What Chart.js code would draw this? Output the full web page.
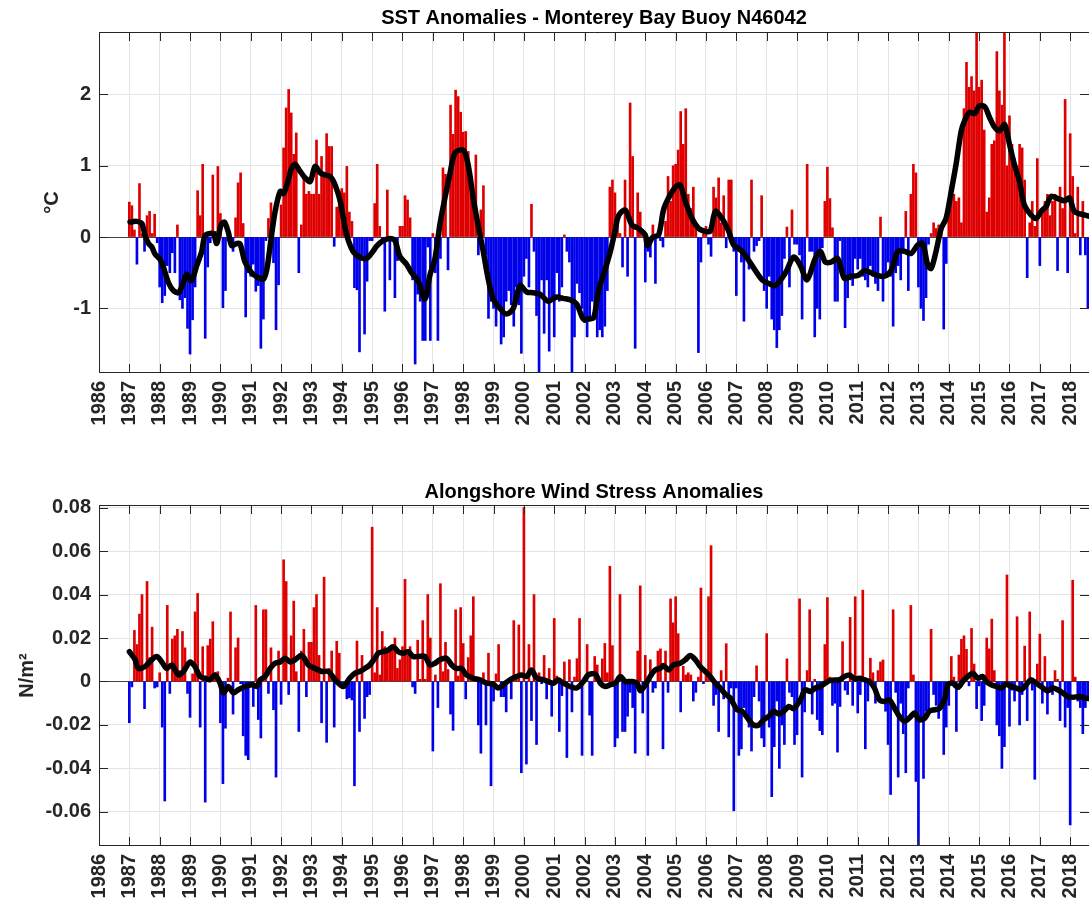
<!DOCTYPE html>
<html>
<head>
<meta charset="utf-8">
<script src="https://cdn.jsdelivr.net/npm/chart.js@4.4.0/dist/chart.umd.min.js"></script>
<style>
  body { margin: 0; background: #fff; width: 1089px; height: 899px; overflow: hidden; position: relative; }
  canvas { position: absolute; left: 0; }
  #sst { top: 0; }
  #wind { top: 470px; }
</style>
</head>
<body>
<canvas id="sst" width="1089" height="440"></canvas>
<canvas id="wind" width="1089" height="429"></canvas>
<script>
// monthly anomalies, one row per year, Jan 1987 .. Aug 2018
const startYear = 1987;

const sstAnom = [
  0.49, 0.44, 0.1, -0.38, 0.75, 0.05, -0.2, 0.3, 0.36, 0.05, 0.32, -0.08,
  -0.7, -0.92, -0.82, -0.4, -0.5, -0.22, -0.5, 0.17, -0.88, -1.0, -0.85, -1.28,
  -1.64, -1.16, -0.7, 0.65, 0.3, 1.02, -1.42, -0.42, -0.08, 0.87, 0.08, 0.99,
  0.33, -0.99, -0.75, -0.05, -0.05, -0.2, 0.27, 0.76, 0.9, 0.19, -1.12, -0.5,
  -0.55, -0.38, -0.76, -0.68, -1.56, -1.15, -0.05, 0.26, 0.48, -0.36, -1.3, -0.67,
  0.45, 1.25, 1.81, 2.07, 1.74, 1.16, 1.46, -0.5, 0.17, 0.83, 0.6, 0.64,
  0.6, 0.6, 1.36, 0.6, 1.13, 0.85, 1.45, 1.27, 1.27, -0.13, 0.42, 0.64,
  0.68, 0.62, 0.99, 0.35, 0.22, -0.71, -0.74, -1.61, -0.25, -1.36, -0.62, -0.05,
  -0.05, 0.47, 1.02, 0.15, -0.05, -1.04, 0.66, -0.6, -0.05, -0.85, -0.33, 0.15,
  0.15, 0.58, 0.52, 0.27, -0.6, -1.78, -0.8, -0.9, -1.45, -1.45, -0.14, -1.45,
  0.05, -0.5, -1.45, -0.3, 0.97, 0.88, -0.46, 1.85, 1.44, 2.06, 1.97, 1.75,
  1.47, 1.48, 1.2, 0.62, 0.62, 1.15, -0.25, 0.38, 0.72, -0.25, -1.14, -0.9,
  -1.0, -1.25, -1.0, -1.5, -1.4, -0.9, -0.75, -0.95, -1.25, -0.7, -0.95, -1.63,
  -0.55, -0.3, -0.7, 0.46, -0.2, -1.1, -1.91, -0.6, -1.35, -0.6, -1.6, -0.9,
  -1.4, -0.5, -0.9, -0.7, 0.03, -0.2, -0.35, -1.91, -1.4, -0.65, -0.78, -1.0,
  -1.2, -1.4, -1.15, -0.9, -1.1, -1.4, -1.3, -1.4, -1.25, -0.75, 0.7, 0.8,
  0.62, 0.3, 0.05, -0.42, 0.8, -0.55, 1.88, 1.13, -1.56, 0.62, 0.35, 0.1,
  -0.63, -0.2, -0.28, 0.17, -0.65, 0.05, -0.05, -0.14, 0.22, 0.85, 0.5, 1.0,
  1.02, 1.22, 1.76, 1.3, 1.8, 0.6, 0.4, 0.7, 0.2, -1.62, -0.35, 0.05,
  0.15, -0.1, -0.27, 0.7, 0.55, 0.83, 0.2, 0.58, -0.15, 0.8, 0.8, -0.2,
  -0.82, -0.16, -0.35, -1.18, -0.3, -0.45, 0.8, -0.2, -0.12, -0.05, 0.58, -0.75,
  -1.0, -0.55, -1.15, -1.3, -1.55, -1.3, -1.1, -0.3, 0.14, -0.7, 0.38, -0.1,
  -0.1, -0.25, -1.15, -0.5, 1.02, -0.2, -0.2, -1.4, -1.0, -1.15, -0.15, 0.5,
  0.98, 0.54, 0.13, -0.9, -0.9, -0.05, -0.5, -1.27, -0.85, -0.6, -0.68, -0.3,
  -0.45, -0.3, -0.55, -0.6, -0.7, -0.4, -0.55, -0.65, -0.75, 0.28, -0.9, -0.55,
  -0.35, -0.55, -1.25, -0.5, -0.4, -0.6, -0.2, 0.36, -0.75, 0.6, 1.02, 0.9,
  -0.7, -1.0, -1.17, -0.85, -0.1, 0.05, 0.2, 0.12, 0.17, 0.12, -1.29, -0.37,
  0.45, 0.6, 0.6, 0.5, 0.55, 0.2, 1.8, 2.45, 2.1, 2.25, 2.05, 2.87,
  2.1, 2.2, 1.5, 0.35, 0.55, 1.3, 1.35, 2.6, 2.05, 1.85, 2.87, 1.0,
  1.7, 1.3, 1.1, 1.0, 1.3, 1.25, 0.8, -0.57, 0.2, 0.5, 0.15, 1.1,
  -0.4, 0.35, 0.5, 0.6, 0.3, 0.5, 0.6, -0.47, 0.7, 0.4, 1.93, -0.5,
  1.45, 0.85, 0.05, 0.7, -0.25, 0.5, -0.25, -1.0
];

const windAnom = [
  -0.019, -0.0025, 0.0235, 0.017, 0.031, 0.04, -0.0125, 0.046, 0.011, 0.025, -0.003, -0.0025,
  0.004, -0.021, -0.055, 0.035, -0.0055, 0.0195, 0.021, 0.024, 0.005, 0.023, 0.0155, -0.0055,
  -0.0165, 0.0035, 0.032, 0.0405, -0.021, 0.016, -0.0555, 0.0165, 0.0195, 0.0275, 0.004, 0.0045,
  -0.019, -0.047, -0.0215, 0.0015, 0.032, -0.015, 0.0155, 0.02, -0.001, -0.025, -0.034, -0.036,
  -0.001, -0.0115, 0.035, -0.0175, -0.026, 0.033, 0.033, -0.0055, 0.0155, -0.013, -0.044, 0.014,
  -0.0105, 0.056, 0.046, -0.006, 0.021, 0.037, 0.0045, -0.023, 0.014, 0.024, -0.007, 0.018,
  0.018, 0.034, 0.04, 0.012, -0.019, 0.048, -0.028, 0.006, 0.014, -0.021, 0.0185, 0.013,
  -0.002, -0.003, -0.008, -0.0075, -0.0085, -0.048, 0.0186, -0.023, 0.012, -0.017, -0.007, -0.006,
  0.071, 0.004, 0.034, 0.003, 0.023, 0.016, 0.014, 0.015, 0.016, 0.02, 0.006, 0.01,
  0.016, 0.047, 0.012, 0.016, -0.0025, -0.0055, 0.019, 0.001, 0.028, 0.001, 0.04, 0.02,
  -0.032, 0.003, -0.012, 0.045, 0.0045, 0.018, 0.0055, -0.015, -0.0225, 0.033, 0.0025, 0.034,
  0.0175, -0.008, 0.011, 0.021, 0.039, 0.0015, -0.02, -0.033, 0.004, -0.02, 0.013, -0.048,
  -0.009, 0.0035, 0.017, -0.007, -0.007, -0.014, 0.001, -0.008, 0.028, 0.001, 0.026, -0.042,
  0.08, -0.038, 0.017, -0.018, 0.04, -0.029, 0.004, -0.001, 0.012, -0.008, 0.006, -0.016,
  0.029, 0.0025, -0.023, -0.0065, 0.009, -0.035, 0.01, -0.014, 0.002, 0.0105, 0.029, -0.034,
  0.001, 0.017, -0.0155, -0.034, 0.0115, 0.0076, 0.001, 0.0104, 0.0175, 0.004, 0.053, 0.0165,
  -0.03, -0.026, 0.04, -0.023, -0.023, -0.016, -0.005, -0.012, -0.033, 0.014, 0.044, -0.0145,
  0.012, -0.034, 0.01, -0.005, -0.003, 0.014, 0.015, -0.031, 0.014, -0.005, 0.038, 0.027,
  0.039, 0.022, -0.014, 0.007, 0.003, 0.004, 0.003, -0.009, -0.005, 0.002, 0.043, -0.001,
  0.005, 0.039, 0.0625, -0.011, -0.006, -0.023, 0.005, -0.008, 0.0174, -0.0255, -0.003, -0.0595,
  -0.003, -0.034, -0.031, -0.012, -0.017, -0.021, -0.032, -0.007, 0.0072, -0.009, -0.026, -0.03,
  0.022, -0.021, -0.053, -0.03, -0.009, -0.04, -0.02, -0.029, 0.0104, -0.005, -0.007, -0.029,
  -0.0245, 0.038, -0.044, -0.014, 0.005, 0.033, -0.015, 0.001, -0.0175, -0.0226, -0.0245, 0.017,
  0.0386, 0.002, -0.011, -0.01, -0.0325, -0.0115, 0.0183, -0.004, -0.006, 0.0295, -0.011, 0.039,
  -0.0145, -0.006, 0.042, -0.031, -0.009, 0.0107, 0.004, -0.01, 0.005, 0.009, 0.0099, -0.0137,
  -0.029, -0.052, 0.033, -0.005, -0.044, -0.01, -0.024, -0.042, -0.003, 0.035, 0.003, -0.046,
  -0.0757, -0.0176, -0.0446, -0.0137, -0.013, 0.024, -0.006, -0.011, -0.017, -0.012, -0.0336, -0.021,
  -0.011, 0.0115, 0.002, -0.023, 0.0122, 0.0194, 0.021, 0.0148, -0.002, 0.0244, 0.008, -0.0125,
  -0.002, -0.018, -0.011, 0.02, 0.015, 0.0287, 0.005, -0.02, -0.025, -0.04, -0.03, 0.049,
  -0.0206, -0.004, -0.009, 0.0298, -0.02, -0.006, 0.0163, -0.018, 0.032, -0.004, -0.045, 0.008,
  0.0218, -0.01, 0.0115, -0.015, -0.004, -0.006, 0.005, 0.001, -0.018, 0.028, -0.021, -0.012,
  -0.066, 0.0466, 0.002, -0.009, -0.012, -0.024, -0.012, -0.008
];

// smoothed curves, [decimal year, value]
const sstSmooth = [
  [1987.02, 0.21], [1987.24, 0.22], [1987.41, 0.19], [1987.52, 0.02], [1987.63, -0.09], [1987.74, -0.14],
  [1987.85, -0.24], [1988.01, -0.31], [1988.12, -0.42], [1988.29, -0.64], [1988.45, -0.75], [1988.62, -0.78],
  [1988.78, -0.64], [1988.89, -0.52], [1989.05, -0.61], [1989.22, -0.4], [1989.38, -0.21], [1989.49, 0.02],
  [1989.66, 0.05], [1989.77, 0.05], [1989.88, -0.09], [1990.02, 0.17], [1990.13, 0.21], [1990.26, 0.07],
  [1990.37, -0.12], [1990.54, -0.09], [1990.65, -0.1], [1990.81, -0.35], [1991.03, -0.5], [1991.25, -0.57],
  [1991.42, -0.59], [1991.53, -0.45], [1991.64, -0.12], [1991.8, 0.35], [1991.97, 0.64], [1992.08, 0.61],
  [1992.19, 0.73], [1992.35, 0.97], [1992.46, 1.02], [1992.63, 0.92], [1992.79, 0.83], [1992.96, 0.78],
  [1993.12, 0.99], [1993.29, 0.9], [1993.45, 0.87], [1993.62, 0.85], [1993.78, 0.73], [1993.95, 0.5],
  [1994.15, 0.05], [1994.37, -0.2], [1994.59, -0.28], [1994.81, -0.3], [1995.03, -0.2], [1995.14, -0.13],
  [1995.36, -0.05], [1995.58, -0.02], [1995.75, -0.05], [1995.91, -0.27], [1996.13, -0.38], [1996.3, -0.5],
  [1996.52, -0.62], [1996.74, -0.87], [1996.9, -0.54], [1997.07, -0.3], [1997.23, 0.17], [1997.4, 0.55],
  [1997.56, 0.88], [1997.73, 1.18], [1998.0, 1.22], [1998.16, 1.02], [1998.33, 0.55], [1998.49, 0.17],
  [1998.66, -0.2], [1998.82, -0.58], [1998.99, -0.87], [1999.21, -1.0], [1999.43, -1.08], [1999.65, -1.0],
  [1999.87, -0.68], [2000.09, -0.77], [2000.31, -0.78], [2000.53, -0.8], [2000.8, -0.9], [2001.08, -0.84],
  [2001.3, -0.86], [2001.52, -0.88], [2001.74, -0.94], [2001.96, -1.15], [2002.12, -1.15], [2002.3, -1.13],
  [2002.46, -0.75], [2002.68, -0.45], [2002.85, -0.2], [2003.01, 0.1], [2003.12, 0.3], [2003.34, 0.38],
  [2003.56, 0.17], [2003.78, 0.12], [2004.0, 0.03], [2004.07, -0.12], [2004.25, 0.0], [2004.44, 0.03],
  [2004.6, 0.38], [2004.77, 0.55], [2004.99, 0.7], [2005.15, 0.73], [2005.32, 0.5], [2005.54, 0.26],
  [2005.76, 0.12], [2005.98, 0.08], [2006.14, 0.08], [2006.31, 0.36], [2006.53, 0.26], [2006.75, 0.08],
  [2006.91, -0.11], [2007.19, -0.2], [2007.52, -0.4], [2007.85, -0.6], [2008.07, -0.65], [2008.29, -0.68],
  [2008.62, -0.5], [2008.89, -0.28], [2009.11, -0.4], [2009.33, -0.6], [2009.6, -0.3], [2009.77, -0.2],
  [2009.93, -0.35], [2010.12, -0.35], [2010.34, -0.3], [2010.56, -0.58], [2010.78, -0.55], [2011.0, -0.54],
  [2011.22, -0.47], [2011.44, -0.5], [2011.66, -0.54], [2011.88, -0.55], [2012.1, -0.47], [2012.32, -0.2],
  [2012.54, -0.2], [2012.76, -0.23], [2012.98, -0.11], [2013.14, -0.09], [2013.31, -0.4], [2013.42, -0.44],
  [2013.58, -0.2], [2013.75, 0.12], [2013.91, 0.26], [2014.08, 0.64], [2014.24, 1.02], [2014.41, 1.49],
  [2014.52, 1.63], [2014.68, 1.75], [2014.85, 1.73], [2015.01, 1.84], [2015.18, 1.83], [2015.34, 1.68],
  [2015.51, 1.54], [2015.67, 1.49], [2015.84, 1.58], [2016.0, 1.3], [2016.16, 1.02], [2016.33, 0.78],
  [2016.49, 0.45], [2016.71, 0.31], [2016.88, 0.26], [2017.04, 0.36], [2017.21, 0.43], [2017.37, 0.57],
  [2017.59, 0.54], [2017.81, 0.51], [2017.98, 0.55], [2018.14, 0.36], [2018.47, 0.31], [2018.66, 0.29]
];

const windSmooth = [
  [1987.0, 0.0137], [1987.19, 0.01], [1987.3, 0.006], [1987.52, 0.0069], [1987.68, 0.0092], [1987.9, 0.0115],
  [1988.07, 0.009], [1988.23, 0.006], [1988.4, 0.0076], [1988.62, 0.003], [1988.78, 0.0046], [1989.0, 0.009],
  [1989.16, 0.0069], [1989.33, 0.0023], [1989.49, 0.0015], [1989.66, 0.0008], [1989.82, 0.003], [1989.99, -0.0008],
  [1990.1, -0.0053], [1990.26, -0.0023], [1990.43, -0.0053], [1990.59, -0.0038], [1990.81, -0.0023], [1991.03, -0.0015],
  [1991.2, -0.0023], [1991.31, 0.0008], [1991.47, 0.0023], [1991.64, 0.006], [1991.8, 0.0084], [1991.97, 0.009],
  [1992.13, 0.0107], [1992.3, 0.009], [1992.46, 0.01], [1992.68, 0.012], [1992.9, 0.0076], [1993.12, 0.006],
  [1993.34, 0.0046], [1993.56, 0.0046], [1993.78, 0.0008], [1994.05, -0.0023], [1994.26, 0.0015], [1994.43, 0.0038],
  [1994.59, 0.0046], [1994.76, 0.006], [1994.92, 0.0076], [1995.09, 0.0107], [1995.2, 0.013], [1995.36, 0.0137],
  [1995.53, 0.0145], [1995.69, 0.016], [1995.86, 0.0137], [1996.02, 0.013], [1996.19, 0.0137], [1996.35, 0.0115],
  [1996.52, 0.0115], [1996.74, 0.0115], [1996.9, 0.0076], [1997.07, 0.0084], [1997.23, 0.01], [1997.45, 0.0107],
  [1997.62, 0.0076], [1997.78, 0.006], [1997.95, 0.006], [1998.11, 0.003], [1998.33, 0.0015], [1998.55, 0.0008],
  [1998.77, -0.0008], [1998.99, -0.0012], [1999.15, -0.003], [1999.32, -0.0015], [1999.54, 0.0008], [1999.76, 0.0023],
  [1999.92, 0.003], [2000.09, 0.0023], [2000.25, 0.0053], [2000.42, 0.0015], [2000.64, 0.0008], [2000.8, 0.0],
  [2000.97, -0.0008], [2001.13, 0.0008], [2001.3, -0.0008], [2001.52, -0.0023], [2001.74, -0.003], [2001.96, 0.0],
  [2002.12, 0.003], [2002.35, 0.0034], [2002.52, -0.0008], [2002.68, -0.0023], [2002.85, -0.0015], [2003.01, -0.0008],
  [2003.18, 0.0023], [2003.34, 0.0], [2003.56, 0.0], [2003.73, -0.0008], [2003.84, -0.0043], [2004.0, -0.0015],
  [2004.16, 0.0023], [2004.33, 0.0053], [2004.49, 0.006], [2004.6, 0.0073], [2004.77, 0.0053], [2004.93, 0.0076],
  [2005.15, 0.0084], [2005.32, 0.01], [2005.48, 0.012], [2005.65, 0.01], [2005.81, 0.0069], [2005.98, 0.0046],
  [2006.14, 0.0023], [2006.31, -0.0008], [2006.47, -0.003], [2006.64, -0.0058], [2006.8, -0.0076], [2007.02, -0.013],
  [2007.19, -0.0137], [2007.41, -0.0176], [2007.57, -0.02], [2007.74, -0.02], [2007.9, -0.0176], [2008.07, -0.016],
  [2008.23, -0.0137], [2008.4, -0.015], [2008.56, -0.0137], [2008.73, -0.0115], [2008.89, -0.0125], [2009.11, -0.0084],
  [2009.27, -0.0038], [2009.44, -0.0046], [2009.6, -0.003], [2009.77, -0.0023], [2009.93, -0.0008], [2010.1, 0.0005],
  [2010.4, 0.0008], [2010.56, 0.0023], [2010.73, 0.003], [2010.89, 0.0012], [2011.05, 0.0015], [2011.22, 0.0008],
  [2011.38, 0.0], [2011.55, -0.003], [2011.71, -0.0084], [2011.88, -0.0092], [2012.04, -0.0084], [2012.21, -0.0122],
  [2012.37, -0.016], [2012.54, -0.0183], [2012.7, -0.0168], [2012.87, -0.0145], [2013.03, -0.0176], [2013.2, -0.017],
  [2013.36, -0.0137], [2013.53, -0.013], [2013.69, -0.0125], [2013.86, -0.0084], [2013.97, -0.0015], [2014.13, -0.0008],
  [2014.3, -0.0027], [2014.46, 0.0], [2014.63, 0.0023], [2014.79, 0.0038], [2014.96, 0.0015], [2015.12, 0.0023],
  [2015.23, 0.0], [2015.4, -0.0015], [2015.56, -0.0023], [2015.73, -0.003], [2015.89, -0.0012], [2016.05, -0.0023],
  [2016.22, -0.003], [2016.38, -0.0038], [2016.55, -0.0015], [2016.71, 0.0008], [2016.88, -0.0008], [2017.04, -0.0023],
  [2017.26, -0.0043], [2017.43, -0.003], [2017.59, -0.0038], [2017.76, -0.0053], [2017.92, -0.0069], [2018.09, -0.0073],
  [2018.31, -0.0069], [2018.47, -0.0076], [2018.66, -0.0079]
];

const sstYTicks = [-1, 0, 1, 2];
const windYTicks = [-0.06, -0.04, -0.02, 0, 0.02, 0.04, 0.06, 0.08];

const ROJO = "rgb(222, 0, 0)";
const AZUL = "rgb(0, 0, 235)";
const EJE = "#262626";
const FUENTE = "'Liberation Sans', Arial, Helvetica, sans-serif";

Chart.defaults.font.family = FUENTE;
Chart.defaults.font.size = 20;
Chart.defaults.font.weight = "bold";
Chart.defaults.color = EJE;

// MATLAB style box with inward ticks
const marco = {
  id: "marco",
  afterDatasetsDraw(chart) {
    const { ctx, chartArea: a, scales: { x, y } } = chart;
    ctx.save();
    ctx.strokeStyle = EJE;
    ctx.lineWidth = 1;
    ctx.beginPath();
    x.ticks.forEach((t) => {
      const px = Math.round(x.getPixelForValue(t.value)) + 0.5;
      ctx.moveTo(px, a.top);
      ctx.lineTo(px, a.top + 9);
      ctx.moveTo(px, a.bottom);
      ctx.lineTo(px, a.bottom - 9);
    });
    y.ticks.forEach((t) => {
      const py = Math.round(y.getPixelForValue(t.value)) + 0.5;
      ctx.moveTo(a.left, py);
      ctx.lineTo(a.left + 9, py);
      ctx.moveTo(a.right, py);
      ctx.lineTo(a.right - 9, py);
    });
    const l = Math.round(a.left) + 0.5, t = Math.round(a.top) + 0.5, b = Math.round(a.bottom) - 0.5;
    ctx.moveTo(a.right, t);
    ctx.lineTo(l, t);
    ctx.lineTo(l, b);
    ctx.lineTo(a.right, b);
    ctx.stroke();
    ctx.restore();
  }
};

function crearPanel(id, opts) {
  const barras = opts.valores.map((v, i) => ({ x: startYear + i / 12, y: v }));
  const colores = opts.valores.map((v) => (v < 0 ? AZUL : ROJO));
  const suave = opts.suave.map((p) => ({ x: p[0], y: p[1] }));

  return new Chart(document.getElementById(id), {
    type: "bar",
    data: {
      datasets: [
        {
          type: "line",
          data: suave,
          borderColor: "#000",
          borderWidth: 5.5,
          pointRadius: 0,
          tension: 0.3,
          borderJoinStyle: "round",
          borderCapStyle: "round",
          order: 0
        },
        {
          type: "bar",
          data: barras,
          backgroundColor: colores,
          borderWidth: 0,
          barThickness: 2,
          order: 1
        }
      ]
    },
    plugins: [marco],
    options: {
      responsive: false,
      animation: false,
      devicePixelRatio: 1,
      layout: { padding: 0 },
      plugins: {
        legend: { display: false },
        tooltip: { enabled: false },
        title: {
          display: true,
          text: opts.titulo,
          fullSize: false,
          color: "#000",
          font: { size: 20, weight: "bold" },
          padding: opts.tituloPad
        }
      },
      scales: {
        x: {
          type: "linear",
          min: 1986,
          max: 2018.62,
          offset: false,
          border: { display: false },
          grid: { color: "#e4e4e4", drawTicks: false, offset: false },
          ticks: {
            stepSize: 1,
            autoSkip: false,
            includeBounds: false,
            minRotation: 90,
            maxRotation: 90,
            padding: 8,
            callback: (v) => String(v)
          },
          afterFit: (s) => {
            s.height = opts.alturaX;
            s.paddingLeft = 0;
            s.paddingRight = 0;
          }
        },
        y: {
          min: opts.yMin,
          max: opts.yMax,
          border: { display: false },
          grid: {
            drawTicks: false,
            color: (c) => (c.tick && Math.abs(c.tick.value) < 1e-9 ? "#444" : "#e4e4e4")
          },
          afterBuildTicks: (s) => { s.ticks = opts.yTicks.map((v) => ({ value: v })); },
          ticks: {
            padding: 8,
            callback: opts.formato
          },
          title: {
            display: true,
            text: opts.etiqueta,
            font: { size: 20, weight: "bold" },
            padding: { top: opts.etiquetaPad, bottom: 0 }
          },
          afterFit: (s) => {
            s.width = 99;
            s.paddingTop = 0;
            s.paddingBottom = 0;
          }
        }
      }
    }
  });
}

crearPanel("sst", {
  valores: sstAnom,
  suave: sstSmooth,
  titulo: "SST Anomalies - Monterey Bay Buoy N46042",
  tituloPad: { top: 6, bottom: 2 },
  yMin: -1.906,
  yMax: 2.875,
  yTicks: sstYTicks,
  formato: (v) => String(v),
  etiqueta: "°C",
  etiquetaPad: 40,
  alturaX: 67
});

crearPanel("wind", {
  valores: windAnom,
  suave: windSmooth,
  titulo: "Alongshore Wind Stress Anomalies",
  tituloPad: { top: 10, bottom: 1 },
  yMin: -0.0757,
  yMax: 0.0812,
  yTicks: windYTicks,
  formato: (v) => (Math.abs(v) < 1e-9 ? "0" : v.toFixed(2)),
  etiqueta: "N/m²",
  etiquetaPad: 15,
  alturaX: 53
});
</script>
</body>
</html>
